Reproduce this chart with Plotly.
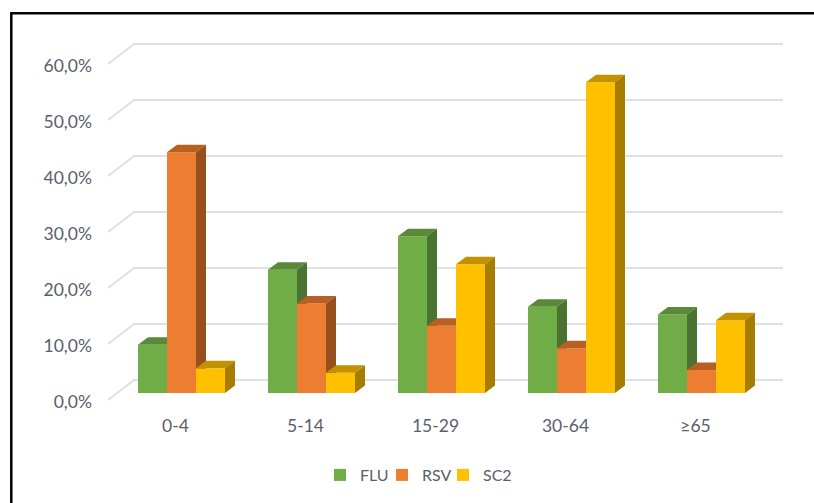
import plotly.graph_objects as go

categories = ["0-4", "5-14", "15-29", "30-64", "≥65"]
flu = [8.6, 22.0, 28.0, 15.4, 14.0]
rsv = [43.0, 16.0, 12.0, 8.0, 4.1]
sc2 = [4.4, 3.6, 23.0, 55.5, 13.0]
tick_values = [0, 10, 20, 30, 40, 50, 60]
tick_labels = ["0,0%", "10,0%", "20,0%", "30,0%", "40,0%", "50,0%", "60,0%"]

W, H = 814, 503
FONT = "Lato"
TEXT = "#5A6069"
GRID = "#E0E0E0"

# pixel geometry of the plot box
L, R, T, B = 93, 800, 30, 413
X0_PX, X_UNIT = 181.5, 130.0     # centre of first group, px per category
Y0_PX, Y_UNIT = 393.0, 5.6       # baseline, px per percentage point
xrange_ = [(L - X0_PX) / X_UNIT, (R - X0_PX) / X_UNIT]
yrange_ = [(Y0_PX - B) / Y_UNIT, (Y0_PX - T) / Y_UNIT]
BAR_W = 29.0 / X_UNIT
DX, DY = 10.0 / X_UNIT, 7.5 / Y_UNIT

series = [
    ("FLU", flu, "#70AD47", "#5A8A39", "#4A7230", 334),
    ("RSV", rsv, "#ED7D31", "#B85F24", "#984F1E", 396),
    ("SC2", sc2, "#FFC000", "#C39200", "#A67D00", 457),
]

fig = go.Figure()

# back wall gridlines with their left-side diagonals (lowest layer)
gx_front, gx_back, gx_end = (108 - X0_PX) / X_UNIT, (134 - X0_PX) / X_UNIT, (783 - X0_PX) / X_UNIT
front_off, back_off = (Y0_PX - 400) / Y_UNIT, (Y0_PX - 380) / Y_UNIT
for v in tick_values:
    fig.add_trace(go.Scatter(
        x=[gx_front, gx_back, gx_end], y=[v + front_off, v + back_off, v + back_off],
        mode="lines", line=dict(color=GRID, width=2), showlegend=False, hoverinfo="skip"))

layout = dict(
    width=W, height=H, margin=dict(l=0, r=0, t=0, b=0),
    paper_bgcolor="white", plot_bgcolor="rgba(0,0,0,0)",
    font=dict(family=FONT, size=17.5, color=TEXT),
    showlegend=True, barmode="overlay",
    xaxis=dict(domain=[L / W, R / W], range=xrange_, showgrid=False, zeroline=False, showline=False,
               tickmode="array", tickvals=[i - 6 / X_UNIT for i in range(len(categories))],
               ticktext=categories, ticks="", tickfont=dict(size=17.5, color=TEXT)),
    yaxis=dict(domain=[(H - B) / H, (H - T) / H], range=yrange_, showgrid=False, zeroline=False, showline=False,
               tickmode="array", tickvals=[v - 8.5 / Y_UNIT for v in tick_values],
               ticktext=tick_labels, ticks="", tickfont=dict(size=17.5, color=TEXT)),
    shapes=[dict(type="rect", xref="paper", yref="paper", x0=11.3 / W, x1=1.05, y0=-0.05, y1=(H - 13.3) / H,
                 line=dict(color="black", width=2.5), layer="below")],
)

# each series lives on its own overlaid subplot so later bars cover earlier depth faces;
# each has its own one-entry legend so the entries can sit at the reference spacing
for j, (name, vals, front, top, side, legend_px) in enumerate(series):
    xa, ya = f"x{j + 2}", f"y{j + 2}"
    leg = "legend" if j == 0 else f"legend{j + 1}"
    xs = [i + (j - 1) * BAR_W for i in range(len(categories))]
    fig.add_trace(go.Bar(x=xs, y=vals, width=BAR_W, name=name, marker=dict(color=front, line=dict(width=0)),
                         xaxis=xa, yaxis=ya, hovertext=categories, legend=leg))
    layout[leg] = dict(x=(legend_px - 14) / W, xanchor="left", y=(H - 475) / H, yanchor="middle",
                       bgcolor="rgba(0,0,0,0)", font=dict(family=FONT, size=16, color=TEXT))
    for xc, v in zip(xs, vals):
        xl, xr = xc - BAR_W / 2, xc + BAR_W / 2
        fig.add_trace(go.Scatter(
            x=[xl, xl + DX, xr + DX, xr, xl], y=[v, v + DY, v + DY, v, v],
            mode="lines", fill="toself", fillcolor=top, line=dict(width=0),
            showlegend=False, hoverinfo="skip", xaxis=xa, yaxis=ya))
        fig.add_trace(go.Scatter(
            x=[xr, xr + DX, xr + DX, xr, xr], y=[0, DY, v + DY, v, 0],
            mode="lines", fill="toself", fillcolor=side, line=dict(width=0),
            showlegend=False, hoverinfo="skip", xaxis=xa, yaxis=ya))

for k in (2, 3, 4):
    layout[f"xaxis{k}"] = dict(domain=[L / W, R / W], range=xrange_, overlaying="x", visible=False)
    layout[f"yaxis{k}"] = dict(domain=[(H - B) / H, (H - T) / H], range=yrange_, overlaying="y", visible=False)
fig.update_layout(**layout)

fig.write_html("out.html", config=dict(displayModeBar=False),
               post_script="document.body.style.margin='0';")
